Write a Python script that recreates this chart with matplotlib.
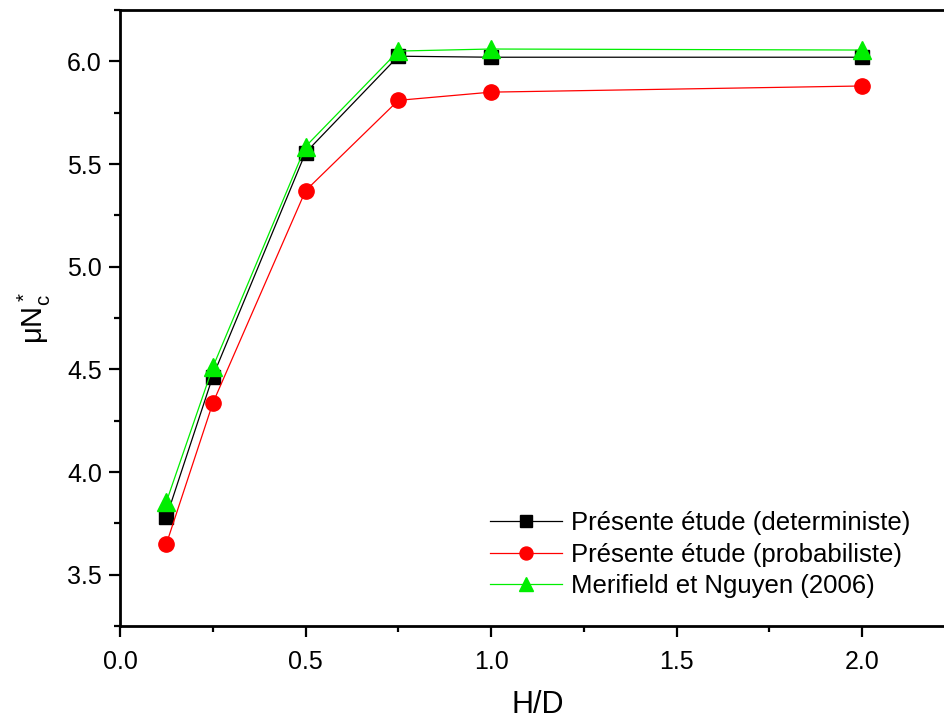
import numpy as np
import matplotlib.pyplot as plt
from matplotlib.ticker import MultipleLocator

plt.rcParams['font.family'] = ['Liberation Sans', 'DejaVu Sans']
plt.rcParams['mathtext.default'] = 'regular'

# donnees
hd = [0.125, 0.25, 0.5, 0.75, 1.0, 2.0]
det = [3.78, 4.465, 5.555, 6.025, 6.02, 6.02]
prob = [3.65, 4.335, 5.37, 5.81, 5.85, 5.88]
meri = [3.855, 4.51, 5.585, 6.05, 6.06, 6.055]
labels = ["Présente étude (deterministe)", "Présente étude (probabiliste)", "Merifield et Nguyen (2006)"]

fig = plt.figure(figsize=(9.44, 7.23), dpi=100)
ax = fig.add_axes([120/944, 1-626/723, 835/944, 616/723])

ax.plot(hd, det, '-s', color='black', lw=0.9, ms=10, label=labels[0])
ax.plot(hd, prob, '-o', color='red', lw=0.9, ms=11, label=labels[1])
ax.plot(hd, meri, '-^', color='#00ee00', lw=0.9, ms=12.5, label=labels[2])

ax.set_xlim(0, 2.25)
ax.set_ylim(3.25, 6.25)
ax.set_xticks([0.0, 0.5, 1.0, 1.5, 2.0])
ax.xaxis.set_minor_locator(MultipleLocator(0.25))
ax.yaxis.set_major_locator(MultipleLocator(0.5))
ax.yaxis.set_minor_locator(MultipleLocator(0.25))
ax.tick_params(which='major', direction='out', length=8, width=1.6, labelsize=18)
ax.tick_params(which='minor', direction='out', length=4, width=1.6)
ax.tick_params(axis='x', which='major', pad=9)
ax.tick_params(axis='y', which='major', pad=5)
ax.tick_params(top=False, right=False)
for s in ax.spines.values():
    s.set_linewidth(2)

ax.set_xlabel('H/D', fontsize=22, labelpad=12)
ax.set_ylabel(r'$\mu N^*_c$', fontsize=21, labelpad=10)

ax.legend(loc='lower right', bbox_to_anchor=(0.946, 0.045), frameon=False, fontsize=18.5,
          borderaxespad=0, borderpad=0, handlelength=2.8, handletextpad=0.35,
          labelspacing=0.3, markerscale=0.85)

plt.savefig('out.png', dpi=100)
